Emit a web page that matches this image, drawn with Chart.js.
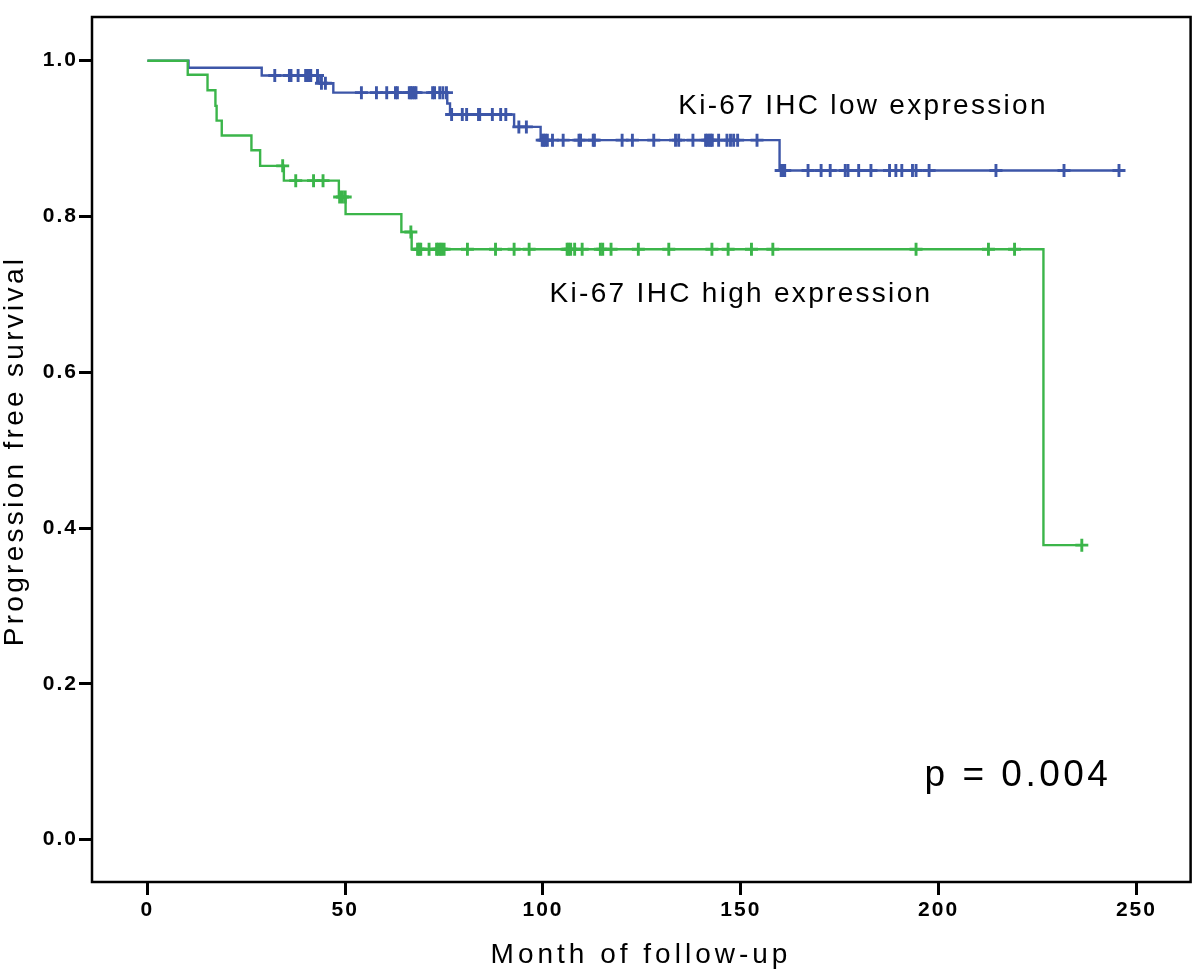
<!DOCTYPE html>
<html>
<head>
<meta charset="utf-8">
<script src="https://cdn.jsdelivr.net/npm/chart.js@4.4.1/dist/chart.umd.min.js"></script>
<style>
  html, body { margin: 0; padding: 0; background: #fff; }
  #wrap { width: 1200px; height: 971px; position: relative; }
</style>
</head>
<body>
<div id="wrap"><canvas id="c" width="1200" height="971"></canvas></div>
<script>
// ---- Data ----
const xTicks = [0, 50, 100, 150, 200, 250];
const yTicks = [0.0, 0.2, 0.4, 0.6, 0.8, 1.0];

// Ki-67 IHC low expression (blue): event times and survival after each step
const lowTimes = [0, 10.4, 28.9, 43.3, 47.0, 75.8, 76.5, 92.7, 99.4, 159.8, 245.6];
const lowSurv  = [1.0, 0.991, 0.981, 0.971, 0.959, 0.945, 0.931, 0.915, 0.898, 0.859, 0.859];
const lowCensor = [32.2, 35.9, 36.3, 38.1, 40.0, 40.4, 40.8, 41.3, 43.0, 44.0, 45.0,
  54.1, 57.9, 60.5, 62.7, 63.2, 66.2, 66.6, 67.0, 67.5, 67.9, 72.1, 72.6, 73.9, 74.7, 75.6,
  76.9, 79.6, 80.7, 83.7, 84.0, 87.2, 89.3, 90.6, 93.9, 95.8,
  99.8, 100.2, 100.6, 101.1, 102.4, 105.1, 109.1, 109.5, 112.7, 113.0, 120.0, 122.6, 128.0,
  133.5, 134.3, 137.9, 141.1, 141.5, 142.0, 142.4, 142.8, 144.4, 146.5, 147.4, 148.2, 149.2, 154.1,
  160.2, 160.6, 161.1, 167.0, 170.3, 172.6, 176.4, 177.1, 179.8, 182.9, 187.6, 189.2, 190.7,
  193.4, 194.3, 197.6, 214.5, 231.7, 245.6];

// Ki-67 IHC high expression (green)
const highTimes = [0, 10.2, 15.2, 17.2, 17.5, 18.8, 26.3, 28.5, 34.5, 48.4, 50.1, 64.2, 66.8, 226.5, 236.2];
const highSurv  = [1.0, 0.982, 0.962, 0.942, 0.923, 0.904, 0.885, 0.865, 0.846, 0.825, 0.803, 0.780, 0.758, 0.378, 0.378];
const highCensor = [34.2, 37.5, 42.0, 44.4, 48.6, 49.3, 50.0, 66.6, 68.3, 68.7, 69.1, 71.2,
  73.1, 73.5, 74.0, 74.4, 75.0, 80.9, 88.0, 92.7, 96.5, 106.1, 106.5, 107.0, 108.0, 109.9,
  114.5, 115.1, 117.2, 124.1, 131.8, 142.7, 146.8, 152.7, 158.1, 194.3, 212.6, 219.2, 236.2];

const labels = {
  x: 'Month of follow-up',
  y: 'Progression free survival',
  low: 'Ki-67 IHC low expression',
  high: 'Ki-67 IHC high expression',
  p: 'p = 0.004'
};

const BLUE = '#3d56a8';
const GREEN = '#3bb54a';

// ---- Helpers ----
function curvePoints(times, surv) {
  return times.map((t, i) => ({ x: t, y: surv[i] }));
}
function survAt(times, surv, t) {
  let s = surv[0];
  for (let i = 0; i < times.length; i++) { if (times[i] <= t) s = surv[i]; }
  return s;
}
function censorPoints(censor, times, surv) {
  return censor.map(t => ({ x: t, y: survAt(times, surv, t) }));
}

const FONT = '"Liberation Sans", Arial, Helvetica, sans-serif';

const framePlugin = {
  id: 'frame',
  beforeDraw(chart) {
    chart.ctx.letterSpacing = '2px';
  },
  afterDraw(chart) {
    const { ctx, chartArea: a } = chart;
    ctx.save();
    ctx.strokeStyle = '#000';
    ctx.lineWidth = 2.5;
    ctx.strokeRect(a.left, a.top, a.right - a.left, a.bottom - a.top);
    ctx.fillStyle = '#000';
    ctx.textBaseline = 'middle';
    ctx.textAlign = 'center';
    // annotations
    ctx.font = '28px ' + FONT;
    ctx.letterSpacing = '2.3px';
    ctx.fillText(labels.low, 863, 106);
    ctx.fillText(labels.high, 741, 294);
    ctx.font = '37px ' + FONT;
    ctx.letterSpacing = '3.5px';
    ctx.fillText(labels.p, 1018, 776);
    // axis titles
    ctx.font = '28px ' + FONT;
    ctx.letterSpacing = '4px';
    ctx.fillText(labels.x, 641, 955);
    ctx.save();
    ctx.translate(15, 451);
    ctx.rotate(-Math.PI / 2);
    ctx.letterSpacing = '3.3px';
    ctx.fillText(labels.y, 0, 0);
    ctx.restore();
    ctx.restore();
  }
};

new Chart(document.getElementById('c'), {
  type: 'scatter',
  data: {
    datasets: [
      { label: 'high censor', data: censorPoints(highCensor, highTimes, highSurv), showLine: false,
        pointStyle: 'cross', pointRadius: 6.5, pointBorderWidth: 2.9, borderColor: GREEN, backgroundColor: GREEN },
      { label: 'high', data: curvePoints(highTimes, highSurv), showLine: true, stepped: true,
        pointRadius: 0, borderColor: GREEN, borderWidth: 2.4, fill: false },
      { label: 'low censor', data: censorPoints(lowCensor, lowTimes, lowSurv), showLine: false,
        pointStyle: 'cross', pointRadius: 6.5, pointBorderWidth: 2.9, borderColor: BLUE, backgroundColor: BLUE },
      { label: 'low', data: curvePoints(lowTimes, lowSurv), showLine: true, stepped: true,
        pointRadius: 0, borderColor: BLUE, borderWidth: 2.4, fill: false }
    ]
  },
  options: {
    responsive: false,
    animation: false,
    layout: { padding: { top: 17, right: 9, left: 0, bottom: 0 } },
    plugins: { legend: { display: false }, tooltip: { enabled: false } },
    scales: {
      x: {
        type: 'linear', min: -14, max: 263.7,
        afterFit(s) { s.height = 89; },
        afterBuildTicks(s) { s.ticks = xTicks.map(v => ({ value: v })); },
        border: { display: false },
        grid: { display: true, drawOnChartArea: false, drawTicks: true, tickLength: 13, tickWidth: 3, tickColor: '#000' },
        ticks: { color: '#000', padding: 3, font: { family: FONT, size: 21, weight: 'bold' }, callback: v => String(v) }
      },
      y: {
        type: 'linear', min: -0.0545, max: 1.0561,
        afterFit(s) { s.width = 92; },
        afterBuildTicks(s) { s.ticks = yTicks.map(v => ({ value: v })); },
        border: { display: false },
        grid: { display: true, drawOnChartArea: false, drawTicks: true, tickLength: 13, tickWidth: 3, tickColor: '#000' },
        ticks: { color: '#000', padding: 1, font: { family: FONT, size: 21, weight: 'bold' }, callback: v => Number(v).toFixed(1) }
      }
    }
  },
  plugins: [framePlugin]
});
</script>
</body>
</html>
